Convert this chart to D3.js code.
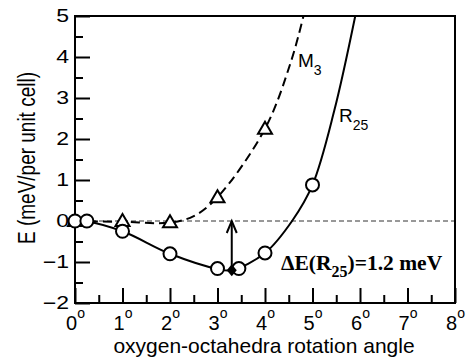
<!DOCTYPE html>
<html>
<head>
<meta charset="utf-8">
<script src="https://cdnjs.cloudflare.com/ajax/libs/d3/7.8.5/d3.min.js"></script>
<style>
  body { margin: 0; background: #fff; }
  svg { display: block; font-family: "Liberation Sans", Arial, sans-serif; }
</style>
</head>
<body>
<div id="chart"></div>
<script>
// computed points
const angleR25 = [0, 0.25, 1, 2, 3, 3.45, 4, 5];
const energyR25 = [0, 0, -0.25, -0.8, -1.16, -1.16, -0.78, 0.88];
const angleM3 = [0, 1, 2, 3, 4];
const energyM3 = [0, 0, -0.03, 0.58, 2.25];

// fitted curves
const fitR25Angle = [0, 0.25, 1, 2, 3, 3.3, 4, 4.57, 5, 5.46, 5.9];
const fitR25Energy = [0, -0.01, -0.25, -0.8, -1.17, -1.2, -0.78, 0, 0.88, 2.7, 5.0];
const fitM3Angle = [0, 1, 2, 2.5, 3, 4, 4.55, 4.81];
const fitM3Energy = [0, -0.02, -0.04, 0.12, 0.58, 2.25, 3.9, 5.0];

// minimum marker
const minAngle = 3.3;
const minEnergy = -1.2;

const xTicks = [0, 1, 2, 3, 4, 5, 6, 7, 8];
const yTicks = [-2, -1, 0, 1, 2, 3, 4, 5];

const W = 466, H = 362;
const margin = { top: 16, right: 11, bottom: 59, left: 75 };
const width = W - margin.left - margin.right,
      height = H - margin.top - margin.bottom;
const FONT = "Liberation Sans, Arial, sans-serif";

const x = d3.scaleLinear().domain([0, 8]).range([0, width]);
const y = d3.scaleLinear().domain([-2, 5]).range([height, 0]);

const svg = d3.select("#chart").append("svg")
  .attr("width", W).attr("height", H);
const g = svg.append("g")
  .attr("transform", "translate(" + margin.left + "," + margin.top + ")");

// zero reference line
g.append("line")
  .attr("x1", x(0)).attr("x2", x(8))
  .attr("y1", y(0)).attr("y2", y(0))
  .attr("stroke", "#333").attr("stroke-width", 1)
  .attr("stroke-dasharray", "5,3");

// minor ticks
const minorX = d3.range(0.5, 8, 1);
const minorY = d3.range(-1.5, 5, 1);
g.append("g")
  .attr("transform", "translate(0," + height + ")")
  .call(d3.axisBottom(x).tickValues(minorX).tickSize(-8).tickFormat(""))
  .call(a => a.select(".domain").remove());
g.append("g")
  .call(d3.axisLeft(y).tickValues(minorY).tickSize(-8).tickFormat(""))
  .call(a => a.select(".domain").remove());

// major axes
const xAxis = g.append("g")
  .attr("transform", "translate(0," + height + ")")
  .call(d3.axisBottom(x).tickValues(xTicks).tickSizeInner(-15).tickSizeOuter(0).tickPadding(9).tickFormat(""));
const yAxis = g.append("g")
  .call(d3.axisLeft(y).tickValues(yTicks).tickSizeInner(-15).tickSizeOuter(0).tickPadding(6).tickFormat(d3.format("d")));

g.selectAll(".tick line").attr("stroke-width", 2);
g.selectAll(".domain").remove();
xAxis.selectAll(".tick text").remove();
yAxis.selectAll("text")
  .attr("font-size", 18).attr("font-family", FONT).attr("fill", "#000")
  .attr("x", -6 / 1.28).attr("transform", "scale(1.28,1)");

// x tick labels with degree sign
xAxis.selectAll(".tick").each(function(d) {
  const t = d3.select(this).append("text")
    .attr("y", 27).attr("fill", "#000")
    .attr("text-anchor", "middle")
    .attr("font-family", FONT)
    .attr("font-size", 20);
  t.append("tspan").text(d);
  t.append("tspan").attr("dy", -12).attr("font-size", 14).text("o");
});

// frame
g.append("rect")
  .attr("width", width).attr("height", height)
  .attr("fill", "none").attr("stroke", "#000").attr("stroke-width", 2);

// curves
g.append("clipPath").attr("id", "clip")
  .append("rect").attr("width", width).attr("height", height);
const line = d3.line().x(d => x(d[0])).y(d => y(d[1])).curve(d3.curveCatmullRom.alpha(0.5));

g.append("path")
  .datum(d3.zip(fitM3Angle, fitM3Energy))
  .attr("clip-path", "url(#clip)")
  .attr("d", line)
  .attr("fill", "none").attr("stroke", "#000").attr("stroke-width", 2)
  .attr("stroke-dasharray", "9,5");

g.append("path")
  .datum(d3.zip(fitR25Angle, fitR25Energy))
  .attr("clip-path", "url(#clip)")
  .attr("d", line)
  .attr("fill", "none").attr("stroke", "#000").attr("stroke-width", 2);

// arrow from minimum up to zero
g.append("line")
  .attr("x1", x(minAngle)).attr("x2", x(minAngle))
  .attr("y1", y(minEnergy)).attr("y2", y(0))
  .attr("stroke", "#000").attr("stroke-width", 2);
g.append("path")
  .attr("d", "M" + (x(minAngle) - 5) + "," + (y(0) + 12) + "L" + x(minAngle) + "," + y(0) + "L" + (x(minAngle) + 5) + "," + (y(0) + 12))
  .attr("fill", "none").attr("stroke", "#000").attr("stroke-width", 2);

// triangles
g.selectAll(".tri")
  .data(d3.zip(angleM3, energyM3))
  .enter().append("path")
  .attr("class", "tri")
  .attr("transform", d => "translate(" + x(d[0]) + "," + y(d[1]) + ")")
  .attr("d", "M0,-7L7,5L-7,5Z")
  .attr("fill", "#fff").attr("stroke", "#000").attr("stroke-width", 2);

// circles
g.selectAll(".dot")
  .data(d3.zip(angleR25, energyR25))
  .enter().append("circle")
  .attr("class", "dot")
  .attr("cx", d => x(d[0])).attr("cy", d => y(d[1]))
  .attr("r", 6.5)
  .attr("fill", "#fff").attr("stroke", "#000").attr("stroke-width", 2);

// minimum diamond
g.append("path")
  .attr("transform", "translate(" + x(minAngle) + "," + y(minEnergy) + ")")
  .attr("d", "M0,-6L5,0L0,6L-5,0Z")
  .attr("fill", "#000");

// curve labels
const m3 = g.append("text").attr("x", 223).attr("y", 51).attr("font-size", 19);
m3.append("tspan").text("M");
m3.append("tspan").attr("dy", 8).attr("font-size", 14).text("3");

const r25 = g.append("text").attr("x", 264).attr("y", 106).attr("font-size", 19);
r25.append("tspan").text("R");
r25.append("tspan").attr("dy", 8).attr("font-size", 14).text("25");

const de = g.append("text").attr("x", 206).attr("y", 254)
  .attr("font-family", "Liberation Serif, Times New Roman, serif")
  .attr("font-weight", "bold").attr("font-size", 21.5);
de.append("tspan").text("\u0394E(R");
de.append("tspan").attr("dy", 7).attr("font-size", 16).text("25");
de.append("tspan").attr("dy", -7).text(")=1.2 meV");

// axis titles
svg.append("text")
  .attr("x", 264).attr("y", 353)
  .attr("text-anchor", "middle").attr("font-size", 21)
  .text("oxygen-octahedra rotation angle");

svg.append("text")
  .attr("transform", "translate(35,158) rotate(-90) scale(1,1.3)")
  .attr("text-anchor", "middle").attr("font-size", 19)
  .text("E (meV/per unit cell)");
</script>
</body>
</html>
